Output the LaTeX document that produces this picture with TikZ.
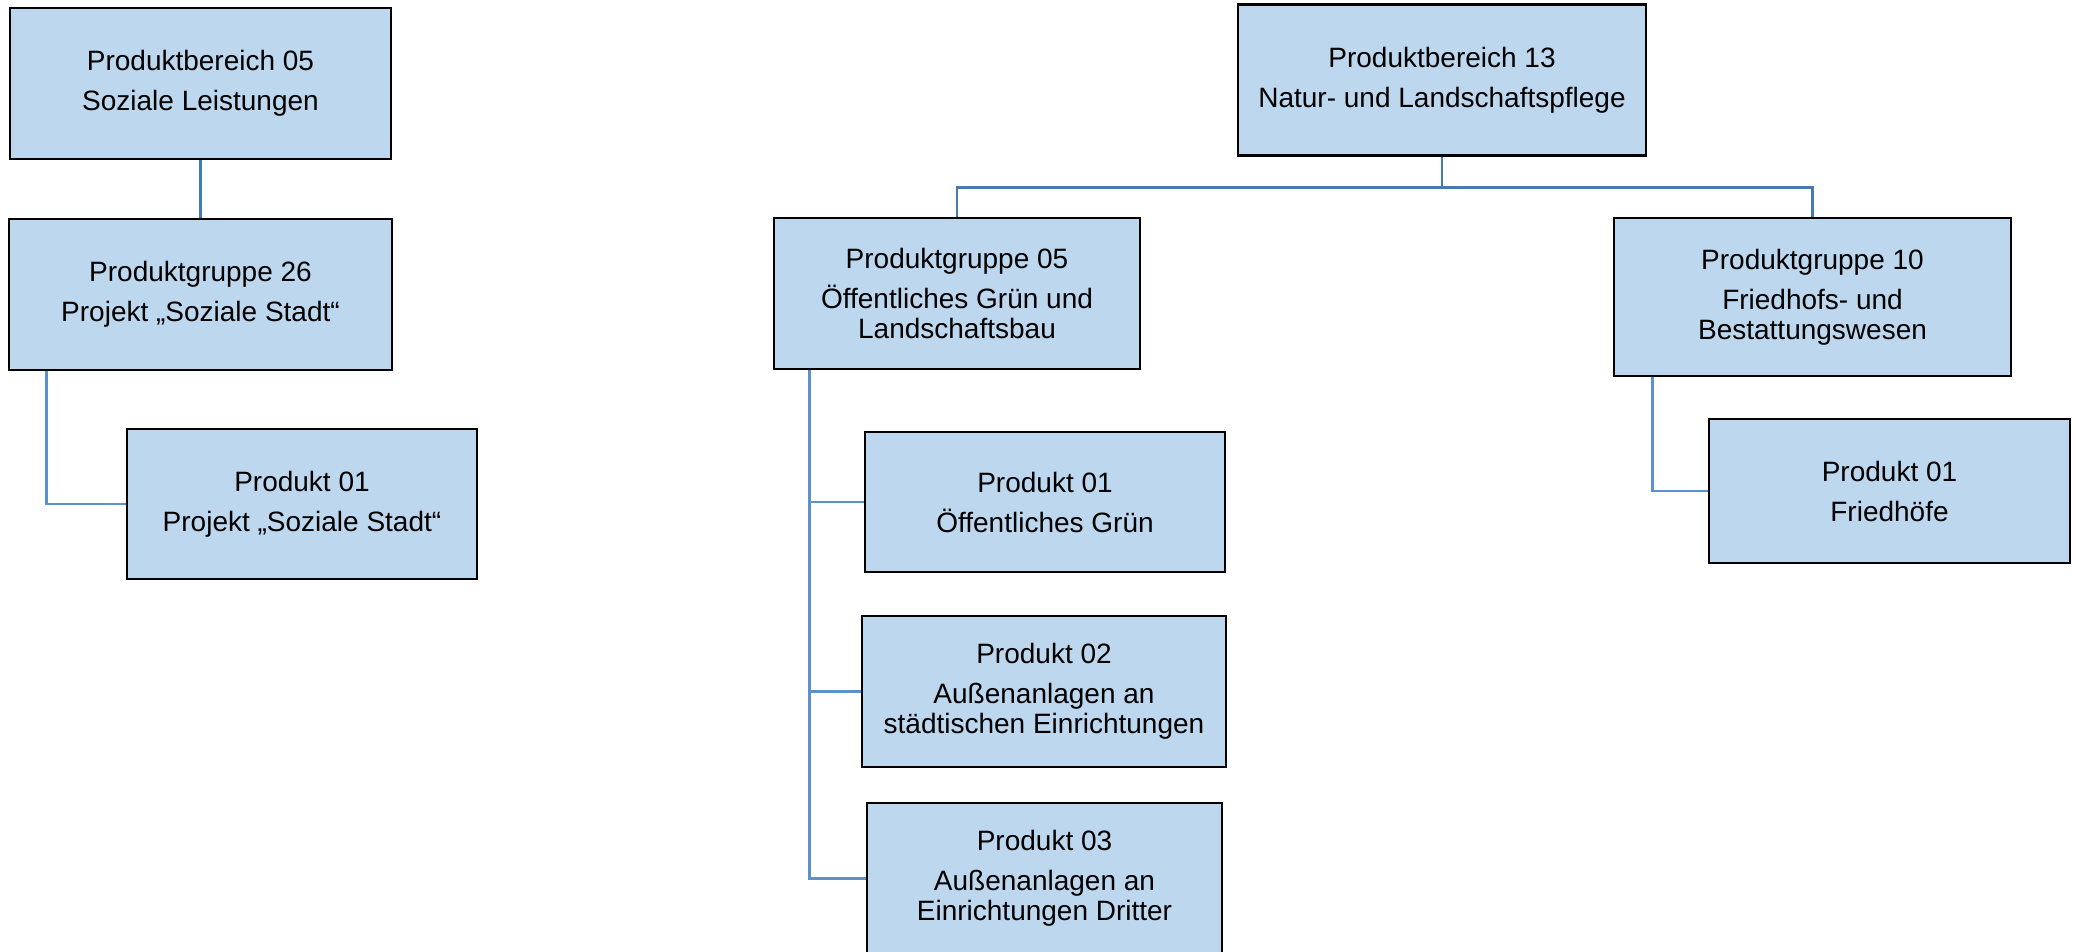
\documentclass[tikz,border=0pt]{standalone}
\usepackage{fontspec}
\setmainfont{Liberation Sans}
\definecolor{boxfill}{HTML}{BDD7EE}
\definecolor{linkdark}{HTML}{467BAF}
\definecolor{linklight}{HTML}{5A92CB}
\begin{document}
\begin{tikzpicture}[x=0.5pt,y=-0.5pt,
  box/.style={draw=black, line width=1.25pt, fill=boxfill, align=center, inner sep=0pt,
    font=\fontsize{14pt}{15pt}\selectfont},
  sz/.style 2 args={minimum width={#1*0.5pt}, minimum height={#2*0.5pt}},
  linkA/.style={draw=linkdark, line width=1.4pt},
  linkB/.style={draw=linklight, line width=1.3pt}]
\useasboundingbox (0,0) rectangle (2076,952);

% left tree
\node[box, sz={381}{151}] (pb05) at (200.5,83.5) {Produktbereich 05\\[5pt]Soziale Leistungen};
\node[box, sz={383}{151}] (pg26) at (200.5,294.5) {Produktgruppe 26\\[5pt]Projekt „Soziale Stadt“};
\node[box, sz={350}{150}] (p01l) at (302,504) {Produkt 01\\[5pt]Projekt „Soziale Stadt“};

% middle/right tree
\node[box, sz={408}{151}] (pb13) at (1442,80) {Produktbereich 13\\[5pt]Natur- und Landschaftspflege};
\node[box, sz={366}{151}] (pg05) at (957,293.5) {Produktgruppe 05\\[5pt]Öffentliches Grün und\\Landschaftsbau};
\node[box, sz={397}{158}] (pg10) at (1812.5,297) {Produktgruppe 10\\[5pt]Friedhofs- und\\Bestattungswesen};
\node[box, sz={360}{140}] (p01g) at (1045,502) {Produkt 01\\[5pt]Öffentliches Grün};
\node[box, sz={364}{151}] (p02) at (1044,691.5) {Produkt 02\\[5pt]Außenanlagen an\\städtischen Einrichtungen};
\node[box, sz={355}{151}] (p03) at (1044.5,878.5) {Produkt 03\\[5pt]Außenanlagen an\\Einrichtungen Dritter};
\node[box, sz={361}{144}] (p01r) at (1889.5,491) {Produkt 01\\[5pt]Friedhöfe};

% connectors
\draw[linkA] (pb05.south) -- (pg26.north);
\draw[linkB] ([xshift=39*0.5pt]pg26.south west) |- (p01l.west);

\coordinate (bus) at ([yshift=-31*0.5pt]pb13.south);
\draw[linkA] (pb13.south) -- (bus);
\draw[linkA] (bus) -| (pg05.north);
\draw[linkA] (bus) -| (pg10.north);

\coordinate (pg05d) at ([xshift=37*0.5pt]pg05.south west);
\draw[linkB] (pg05d) |- (p03.west);
\draw[linkB] (pg05d) |- (p01g.west);
\draw[linkB] (pg05d) |- (p02.west);

\draw[linkB] ([xshift=40*0.5pt]pg10.south west) |- (p01r.west);
\end{tikzpicture}
\end{document}
